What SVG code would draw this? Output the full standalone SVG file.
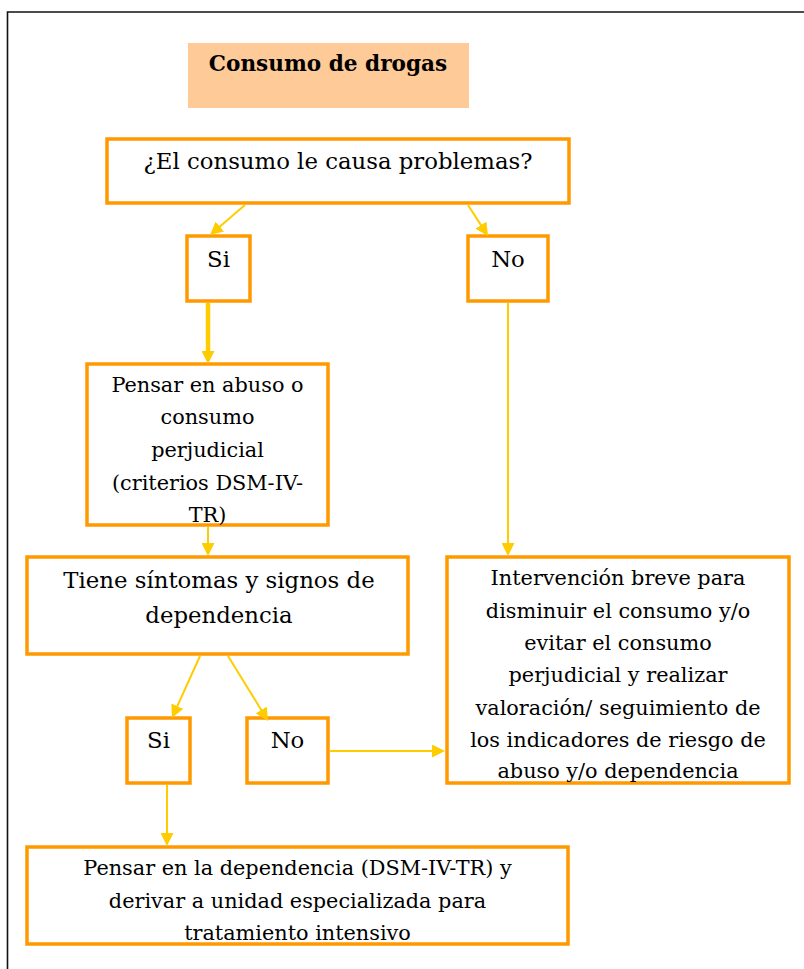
<svg xmlns="http://www.w3.org/2000/svg" width="804" height="969" viewBox="0 0 804 969">
  <style>
    .box { fill: #FFFFFF; stroke: #FF9900; stroke-width: 3.5; }
    .t { font-family: "DejaVu Serif", "Liberation Serif", serif; fill: #000; text-anchor: middle; }
    .big { font-size: 22.8px; }
    .med { font-size: 20.8px; }
    .title { font-size: 21.6px; font-weight: bold; }
    .conn { fill: none; stroke: #FFCC00; stroke-width: 2; }
    .thick { stroke-width: 4.5; }
  </style>
  <defs>
    <marker id="arrow" viewBox="0 0 13 13" refX="3" refY="6.5" markerWidth="13" markerHeight="13" markerUnits="userSpaceOnUse" orient="auto">
      <path d="M0,0 L13,6.5 L0,13 Z" fill="#FFCC00"/>
    </marker>
  </defs>
  <rect width="804" height="969" fill="#FFFFFF"/>
  <path id="frame" d="M7.5,969 V12 H804" fill="none" stroke="#111" stroke-width="1.6"/>

  <g id="title">
    <rect x="188" y="43" width="281" height="65" fill="#FDCA98"/>
    <text class="t title" x="328" y="71">Consumo de drogas</text>
  </g>

  <g id="q1">
    <rect class="box" x="107" y="139" width="462" height="64"/>
    <text class="t big" x="338" y="169">¿El consumo le causa problemas?</text>
  </g>

  <g id="si1">
    <rect class="box" x="187" y="236" width="63" height="65"/>
    <text class="t big" x="218.5" y="267">Si</text>
  </g>

  <g id="no1">
    <rect class="box" x="468" y="236" width="80" height="65"/>
    <text class="t big" x="508" y="267">No</text>
  </g>

  <g id="abuso">
    <rect class="box" x="87" y="364" width="241" height="161"/>
    <text class="t med" x="207.5" y="392">Pensar en abuso o</text>
    <text class="t med" x="207.5" y="424">consumo</text>
    <text class="t med" x="207.5" y="457">perjudicial</text>
    <text class="t med" x="207.5" y="490">(criterios DSM-IV-</text>
    <text class="t med" x="207.5" y="522">TR)</text>
  </g>

  <g id="q2">
    <rect class="box" x="27" y="557" width="381" height="97"/>
    <text class="t big" x="219" y="588">Tiene síntomas y signos de</text>
    <text class="t big" x="219" y="623">dependencia</text>
  </g>

  <g id="intervencion">
    <rect class="box" x="447" y="557" width="342" height="226"/>
    <text class="t med" x="618" y="585">Intervención breve para</text>
    <text class="t med" x="618" y="618">disminuir el consumo y/o</text>
    <text class="t med" x="618" y="650">evitar el consumo</text>
    <text class="t med" x="618" y="682">perjudicial y realizar</text>
    <text class="t med" x="618" y="715">valoración/ seguimiento de</text>
    <text class="t med" x="618" y="747">los indicadores de riesgo de</text>
    <text class="t med" x="618" y="778">abuso y/o dependencia</text>
  </g>

  <g id="si2">
    <rect class="box" x="127" y="718" width="63" height="65"/>
    <text class="t big" x="158.5" y="748">Si</text>
  </g>

  <g id="no2">
    <rect class="box" x="247" y="718" width="81" height="65"/>
    <text class="t big" x="287.5" y="748">No</text>
  </g>

  <g id="dependencia">
    <rect class="box" x="27" y="847" width="541" height="97"/>
    <text class="t med" x="297.5" y="875">Pensar en la dependencia (DSM-IV-TR) y</text>
    <text class="t med" x="297.5" y="908">derivar a unidad especializada para</text>
    <text class="t med" x="297.5" y="940">tratamiento intensivo</text>
  </g>

  <g id="connectors">
    <path class="conn" d="M245,205 L217.6,228.5" marker-end="url(#arrow)"/>
    <path class="conn" d="M468,205 L482.6,227.6" marker-end="url(#arrow)"/>
    <path class="conn thick" d="M208,303 L208,354" marker-end="url(#arrow)"/>
    <path class="conn" d="M508,303 L508,546" marker-end="url(#arrow)"/>
    <path class="conn" d="M208,527 L208,546" marker-end="url(#arrow)"/>
    <path class="conn" d="M200,656 L176.1,708.9" marker-end="url(#arrow)"/>
    <path class="conn" d="M228,656 L262.8,712.5" marker-end="url(#arrow)"/>
    <path class="conn" d="M330,751 L435,751" marker-end="url(#arrow)"/>
    <path class="conn" d="M167,785 L167,836" marker-end="url(#arrow)"/>
  </g>
</svg>
